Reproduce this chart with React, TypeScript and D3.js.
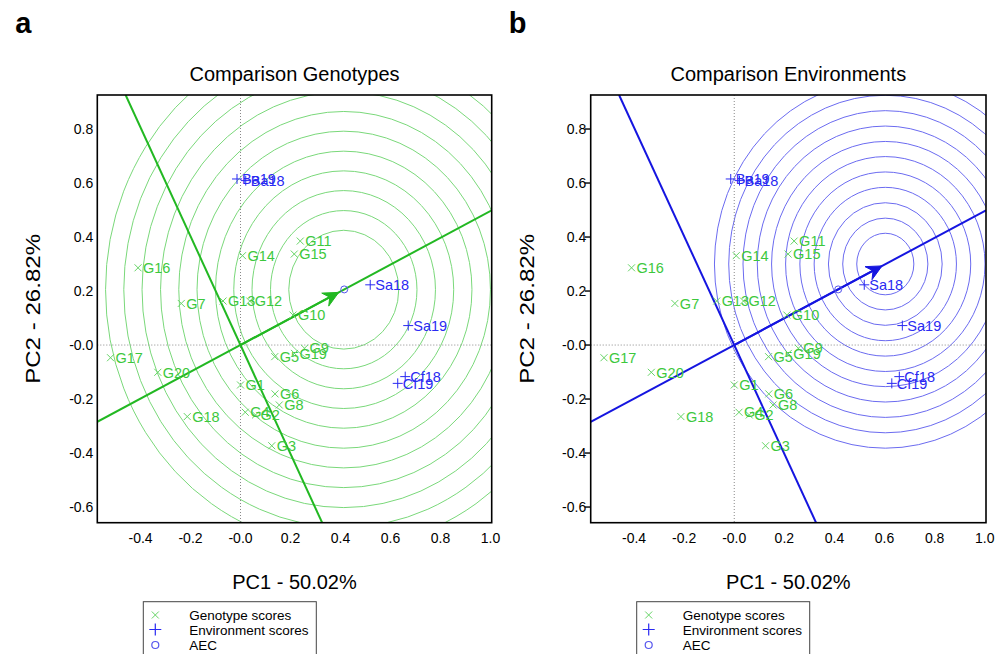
import * as d3 from 'd3';

// genotype scores (PC1, PC2)
const genotypes = ['G1', 'G2', 'G3', 'G4', 'G5', 'G6', 'G7', 'G8', 'G9', 'G10',
  'G11', 'G12', 'G13', 'G14', 'G15', 'G16', 'G17', 'G18', 'G19', 'G20'];
const genoPC1 = [0.0, 0.06, 0.125, 0.019, 0.137, 0.138, -0.237, 0.155, 0.256, 0.21,
  0.239, 0.037, -0.07, 0.008, 0.215, -0.41, -0.52, -0.213, 0.216, -0.331];
const genoPC2 = [-0.148, -0.259, -0.373, -0.249, -0.043, -0.181, 0.154, -0.222, -0.012, 0.111,
  0.385, 0.163, 0.163, 0.331, 0.337, 0.286, -0.047, -0.265, -0.031, -0.101];

// environment scores
const environments = ['Ba19', 'Ba18', 'Sa18', 'Sa19', 'Cf18', 'Cf19'];
const envPC1 = [-0.014, 0.021, 0.519, 0.671, 0.659, 0.629];
const envPC2 = [0.615, 0.609, 0.223, 0.072, -0.117, -0.142];

// average environment coordinate
const aec = [0.415, 0.206];

// concentric rings: centre + radii for each panel
const genoCentre = [0.413, 0.205];
const genoRadii = [0.22, 0.293, 0.367, 0.44, 0.513, 0.587, 0.66, 0.733, 0.807, 0.88, 0.953];
const genoArrowEnd = [0.393, 0.195];
const envCentre = [0.603, 0.3];
const envRadii = [0.114, 0.17, 0.227, 0.284, 0.341, 0.398, 0.454, 0.511, 0.568, 0.625, 0.682];
const envArrowEnd = [0.59, 0.293];

const xTicks = [-0.4, -0.2, 0, 0.2, 0.4, 0.6, 0.8, 1.0];
const xTickLabels = ['-0.4', '-0.2', '-0.0', '0.2', '0.4', '0.6', '0.8', '1.0'];
const yTicks = [-0.6, -0.4, -0.2, 0, 0.2, 0.4, 0.6, 0.8];
const yTickLabels = ['-0.6', '-0.4', '-0.2', '-0.0', '0.2', '0.4', '0.6', '0.8'];

const xDomain = [-0.573, 1.005];
const yDomain = [-0.658, 0.926];

const FONT = '"Liberation Sans", Arial, Helvetica, sans-serif';
const GREEN_TXT = '#3cc83c';
const GREEN_MK = '#66d466';
const BLUE_TXT = '#2a2af2';

function Panel({ id, letter, title, left, right, ringColor, ringWidth, lineColor, centre, radii, arrowEnd, yTicksMarks, labelRight }) {
  const top = 95;
  const bottom = 522.7;
  const x = d3.scaleLinear().domain(xDomain).range([left, right]);
  const y = d3.scaleLinear().domain(yDomain).range([bottom, top]);

  // AEC abscissa and ordinate through the origin
  const slope = aec[1] / aec[0];
  const absc = [[xDomain[0], xDomain[0] * slope], [xDomain[1], xDomain[1] * slope]];
  const perp = -1 / slope;
  const ordi = [[yDomain[1] / perp, yDomain[1]], [yDomain[0] / perp, yDomain[0]]];
  const line = d3.line().x((d) => x(d[0])).y((d) => y(d[1]));

  // arrowhead
  const ax0 = x(0), ay0 = y(0), ax1 = x(arrowEnd[0]), ay1 = y(arrowEnd[1]);
  const ang = Math.atan2(ay1 - ay0, ax1 - ax0);
  const hl = 17, hw = Math.PI / 7;
  const p1 = [ax1 - hl * Math.cos(ang - hw), ay1 - hl * Math.sin(ang - hw)];
  const p2 = [ax1 - hl * Math.cos(ang + hw), ay1 - hl * Math.sin(ang + hw)];
  const pn = [ax1 - hl * 0.6 * Math.cos(ang), ay1 - hl * 0.6 * Math.sin(ang)];
  const head = `M${ax1},${ay1}L${p1[0]},${p1[1]}L${pn[0]},${pn[1]}L${p2[0]},${p2[1]}Z`;

  const midX = (left + right) / 2;
  const midY = (top + bottom) / 2;

  return (
    <g>
      <defs>
        <clipPath id={id}>
          <rect x={left} y={top} width={right - left} height={bottom - top} />
        </clipPath>
      </defs>
      <text x={left - 82} y={33} fontSize={29} fontWeight="bold" fontFamily={FONT}>{letter}</text>
      <text x={midX} y={81} fontSize={20} textAnchor="middle" fontFamily={FONT}>{title}</text>

      <g clipPath={`url(#${id})`}>
        {radii.map((r, i) => (
          <ellipse key={i} cx={x(centre[0])} cy={y(centre[1])}
            rx={x(r) - x(0)} ry={y(0) - y(r)}
            fill="none" stroke={ringColor} strokeWidth={ringWidth} />
        ))}
        <line x1={x(0)} x2={x(0)} y1={top} y2={bottom} stroke="#888" strokeWidth={1} strokeDasharray="1,2" />
        <line x1={left} x2={right} y1={y(0)} y2={y(0)} stroke="#888" strokeWidth={1} strokeDasharray="1,2" />
        <path d={line(absc)} stroke={lineColor} strokeWidth={2} fill="none" />
        <path d={line(ordi)} stroke={lineColor} strokeWidth={2} fill="none" />
        <line x1={ax0} y1={ay0} x2={pn[0]} y2={pn[1]} stroke={lineColor} strokeWidth={2} />
        <path d={head} fill={lineColor} stroke={lineColor} strokeWidth={1} />
      </g>

      {genotypes.map((g, i) => {
        const px = x(genoPC1[i]), py = y(genoPC2[i]);
        return (
          <g key={g}>
            <path d={`M${px - 3.5},${py - 3.5}L${px + 3.5},${py + 3.5}M${px - 3.5},${py + 3.5}L${px + 3.5},${py - 3.5}`}
              stroke={GREEN_MK} strokeWidth={1} />
            <text x={px + 5} y={py} dy="0.36em" fontSize={14.5} fill={GREEN_TXT} fontFamily={FONT}>{g}</text>
          </g>
        );
      })}
      {environments.map((e, i) => {
        const px = x(envPC1[i]), py = y(envPC2[i]);
        return (
          <g key={e}>
            <path d={`M${px - 5},${py}L${px + 5},${py}M${px},${py - 5}L${px},${py + 5}`}
              stroke={BLUE_TXT} strokeWidth={1} />
            <text x={px + 5} y={py} dy="0.36em" fontSize={14.5} fill={BLUE_TXT} fontFamily={FONT}>{e}</text>
          </g>
        );
      })}
      <circle cx={x(aec[0])} cy={y(aec[1])} r={3.5} fill="none" stroke="#5555ee" strokeWidth={1} />

      <rect x={left} y={top} width={right - left} height={bottom - top} fill="none" stroke="#000" strokeWidth={1.6} />

      {xTicks.map((t, i) => (
        <text key={t} x={x(t)} y={543} fontSize={14} textAnchor="middle" fontFamily={FONT}>{xTickLabels[i]}</text>
      ))}
      {yTicks.map((t, i) => (
        <g key={t}>
          {yTicksMarks && <line x1={left - 6} x2={left} y1={y(t)} y2={y(t)} stroke="#000" strokeWidth={1.4} />}
          <text x={left - labelRight} y={y(t)} dy="0.36em" fontSize={14} textAnchor="end" fontFamily={FONT}>{yTickLabels[i]}</text>
        </g>
      ))}

      <text x={midX} y={589} fontSize={20} textAnchor="middle" fontFamily={FONT}>PC1 - 50.02%</text>
      <text transform={`translate(${left - 57},${midY}) rotate(-90)`} fontSize={20} textAnchor="middle"
        textLength={150} lengthAdjust="spacingAndGlyphs" fontFamily={FONT}>PC2 - 26.82%</text>

      <g>
        <rect x={left + 46} y={601.7} width={173} height={70} fill="none" stroke="#444" strokeWidth={1} />
        <path d={`M${left + 54.5},${611.5}L${left + 61.5},${618.5}M${left + 54.5},${618.5}L${left + 61.5},${611.5}`} stroke={GREEN_MK} strokeWidth={1} />
        <path d={`M${left + 52},${629.5}L${left + 64},${629.5}M${left + 58},${623.5}L${left + 58},${635.5}`} stroke={BLUE_TXT} strokeWidth={1.2} />
        <circle cx={left + 58} cy={645} r={3.5} fill="none" stroke="#5555ee" strokeWidth={1.2} />
        <text x={left + 92} y={615.5} dy="0.36em" fontSize={13.5} fontFamily={FONT}>Genotype scores</text>
        <text x={left + 92} y={630} dy="0.36em" fontSize={13.5} fontFamily={FONT}>Environment scores</text>
        <text x={left + 92} y={645} dy="0.36em" fontSize={13.5} fontFamily={FONT}>AEC</text>
      </g>
    </g>
  );
}

export default function App() {
  return (
    <svg width={1000} height={654} style={{ position: 'absolute', left: 0, top: 0, background: '#fff' }}>
      <rect width={1000} height={654} fill="#fff" />
      <Panel id="clipA" letter="a" title="Comparison Genotypes" left={97.3} right={491.7}
        ringColor="#7ad87a" ringWidth={1} lineColor="#22b822"
        centre={genoCentre} radii={genoRadii} arrowEnd={genoArrowEnd}
        yTicksMarks={false} labelRight={4} />
      <Panel id="clipB" letter="b" title="Comparison Environments" left={590.7} right={986}
        ringColor="#6b6bf0" ringWidth={1} lineColor="#1515e0"
        centre={envCentre} radii={envRadii} arrowEnd={envArrowEnd}
        yTicksMarks={true} labelRight={4.5} />
    </svg>
  );
}
